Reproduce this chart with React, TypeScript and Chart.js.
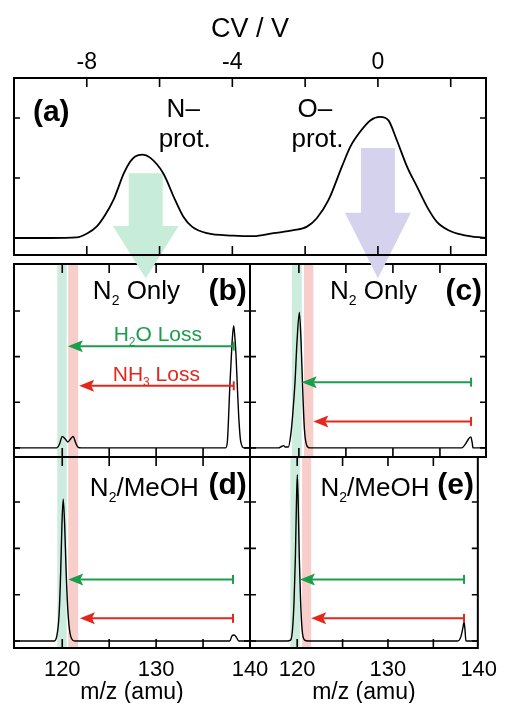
import React, { useEffect, useRef } from 'react';
import { Chart, registerables } from 'chart.js';

Chart.register(...registerables);

const W = 508;
const H = 703;
const FONT = '"Liberation Sans", Arial, Helvetica, sans-serif';

// ---------- (a) CV scan ----------
const cvValues = [-10, -9, -8.28, -7.98, -7.73, -7.5, -7.27, -6.98, -6.81, -6.67, -6.47, -6.26, -5.9, -5.57, -5.35, -5.11, -4.7, -3.97, -3.42, -2.87, -2.32, -1.95, -1.68, -1.36, -0.99, -0.76, -0.49, -0.21, 0.06, 0.29, 0.52, 0.8, 1.07, 1.35, 1.62, 1.94, 2.35, 2.97];
const cvIntensity = [0, 0, 0.01, 0.08, 0.19, 0.38, 0.63, 1.08, 1.27, 1.36, 1.39, 1.34, 1.08, 0.63, 0.36, 0.19, 0.08, 0.04, 0.03, 0.08, 0.13, 0.19, 0.33, 0.63, 1.19, 1.52, 1.77, 1.96, 2.02, 1.96, 1.63, 1.19, 0.86, 0.52, 0.27, 0.13, 0.05, 0];
const cvTicks = [-8, -6, -4, -2, 0, 2];
const cvLabeled = [-8, -4, 0];
const cvYTicks = [0, 1, 2];

// ---------- mass spectra ----------
const mzTicks = [120, 125, 130, 135, 140];
const mzLabeled = [120, 130, 140];
const msYTicks = [0, 1, 2, 3];

const mzB = [114.86, 119.4, 119.7, 120.0, 120.3, 120.6, 120.9, 121.15, 121.45, 121.7, 122.0, 137.4, 137.59, 137.7, 137.84, 138.02, 138.12, 138.26, 138.38, 138.51, 138.66, 138.83, 139.01, 139.4, 140];
const intB = [0, 0, 0.08, 0.25, 0.2, 0.13, 0.2, 0.25, 0.1, 0.01, 0, 0, 0.14, 0.58, 1.3, 2.03, 2.4, 2.68, 2.45, 2.03, 1.3, 0.58, 0.14, 0, 0];

const mzC = [114.8, 117.8, 118.15, 118.35, 118.55, 118.88, 119.13, 119.34, 119.59, 119.8, 120.05, 120.23, 120.4, 120.58, 120.83, 121.18, 137.32, 137.67, 138.03, 138.28, 138.42, 138.52, 139.9];
const intC = [0, 0, 0.03, 0.05, 0.02, 0.02, 0.28, 0.72, 1.45, 2.33, 2.97, 2.33, 1.31, 0.43, 0.06, 0, 0, 0.07, 0.19, 0.24, 0.13, 0, 0];

const mzD = [114.86, 119.12, 119.4, 119.65, 119.83, 119.97, 120.1, 120.25, 120.42, 120.64, 120.92, 121.34, 137.84, 138.08, 138.3, 138.55, 138.8, 140];
const intD = [0, 0, 0.09, 0.53, 1.46, 2.54, 3.06, 2.54, 1.46, 0.53, 0.09, 0, 0, 0.11, 0.13, 0.08, 0, 0];

const mzE = [114.8, 118.88, 119.27, 119.48, 119.66, 119.8, 119.91, 120.01, 120.12, 120.23, 120.37, 120.54, 120.83, 121.18, 137.67, 138.03, 138.28, 138.38, 138.49, 138.59, 139.9];
const intE = [0, 0, 0.02, 0.24, 0.89, 1.82, 2.9, 3.59, 2.9, 1.82, 0.89, 0.24, 0.02, 0, 0, 0.09, 0.31, 0.42, 0.23, 0, 0];

// highlighted m/z bands [green (H2O loss), red (NH3 loss)]
const bandsLeft = [[119.47, 120.47], [120.64, 121.7]];
const bandsRight = [[119.25, 120.3], [120.54, 121.54]];

// loss arrows: [y, start m/z, tip m/z]  (first green, second red)
const arrowsB = [[2.23, 138.27, 120.6], [1.36, 138.27, 121.8]];
const arrowsC = [[1.44, 138.31, 120.3], [0.58, 138.31, 121.54]];
const arrowsD = [[1.33, 138.19, 120.64], [0.49, 138.19, 121.88]];
const arrowsE = [[1.33, 138.38, 120.3], [0.49, 138.38, 121.54]];

// big CV arrows: [CV centre, shaft top, head start, tip]
const cvArrows = [[-6.38, 1.08, 0.2, -0.67], [0, 1.5, 0.42, -0.67]];

const GREEN = '#1a9e4c';
const RED = '#e3271d';
const BAND_COLORS = ['rgb(204,237,221)', 'rgb(248,206,203)'];
const BIG_ARROW_COLORS = ['rgb(200,236,218)', 'rgb(212,210,236)'];

type Part = [string, boolean];
type Txt = { parts: Part[]; x: number; y: number; align: 'left' | 'center' | 'right'; size: number; color: string; bold?: boolean };

function drawRich(ctx: CanvasRenderingContext2D, t: Txt, px: number, py: number) {
  const subSize = Math.round(t.size * 0.55);
  const main = `${t.bold ? 'bold ' : ''}${t.size}px ${FONT}`;
  const sub = `${t.bold ? 'bold ' : ''}${subSize}px ${FONT}`;
  let total = 0;
  for (const [s, isSub] of t.parts) {
    ctx.font = isSub ? sub : main;
    total += ctx.measureText(s).width;
  }
  let x = t.align === 'left' ? px : t.align === 'center' ? px - total / 2 : px - total;
  ctx.fillStyle = t.color;
  ctx.textBaseline = 'alphabetic';
  ctx.textAlign = 'left';
  for (const [s, isSub] of t.parts) {
    ctx.font = isSub ? sub : main;
    ctx.fillText(s, x, isSub ? py + t.size * 0.24 : py);
    x += ctx.measureText(s).width;
  }
}

type Decor = {
  xTicks: number[];
  yTicks: number[];
  bands?: number[][];
  lossArrows?: number[][];
  bigArrows?: number[][];
  texts: Txt[];
};

function makeDecor(d: Decor) {
  return {
    id: 'decor',
    beforeDatasetsDraw(chart: any) {
      const { ctx, chartArea: a, scales } = chart;
      const x = scales.x;
      const y = scales.y;
      ctx.save();
      (d.bands || []).forEach((b, i) => {
        const x1 = x.getPixelForValue(b[0]);
        const x2 = x.getPixelForValue(b[1]);
        ctx.fillStyle = BAND_COLORS[i];
        ctx.fillRect(x1, a.top, x2 - x1, a.bottom - a.top);
      });
      (d.bigArrows || []).forEach((b, i) => {
        const cx = x.getPixelForValue(b[0]);
        const top = y.getPixelForValue(b[1]);
        const hs = y.getPixelForValue(b[2]);
        const tip = y.getPixelForValue(b[3]);
        const sh = 17;
        const hh = 33;
        ctx.fillStyle = BIG_ARROW_COLORS[i];
        ctx.beginPath();
        ctx.moveTo(cx - sh, top);
        ctx.lineTo(cx + sh, top);
        ctx.lineTo(cx + sh, hs);
        ctx.lineTo(cx + hh, hs);
        ctx.lineTo(cx, tip);
        ctx.lineTo(cx - hh, hs);
        ctx.lineTo(cx - sh, hs);
        ctx.closePath();
        ctx.fill();
      });
      ctx.restore();
    },
    afterDatasetsDraw(chart: any) {
      const { ctx, chartArea: a, scales } = chart;
      const x = scales.x;
      const y = scales.y;
      ctx.save();
      // loss arrows
      (d.lossArrows || []).forEach((r, i) => {
        const col = i === 0 ? GREEN : RED;
        const py = y.getPixelForValue(r[0]);
        const x0 = x.getPixelForValue(r[1]);
        const xt = x.getPixelForValue(r[2]);
        ctx.strokeStyle = col;
        ctx.fillStyle = col;
        ctx.lineWidth = 2;
        ctx.beginPath();
        ctx.moveTo(x0, py);
        ctx.lineTo(xt + 12, py);
        ctx.stroke();
        ctx.beginPath();
        ctx.moveTo(x0, py - 4.5);
        ctx.lineTo(x0, py + 4.5);
        ctx.stroke();
        ctx.beginPath();
        ctx.moveTo(xt, py);
        ctx.lineTo(xt + 15, py - 6);
        ctx.lineTo(xt + 12, py);
        ctx.lineTo(xt + 15, py + 6);
        ctx.closePath();
        ctx.fill();
      });
      // frame
      ctx.strokeStyle = '#000';
      ctx.lineWidth = 2;
      ctx.strokeRect(a.left, a.top, a.right - a.left, a.bottom - a.top);
      ctx.lineWidth = 1.6;
      ctx.beginPath();
      d.xTicks.forEach((v) => {
        const px = x.getPixelForValue(v);
        if (px <= a.left + 1 || px >= a.right - 1) return;
        ctx.moveTo(px, a.top);
        ctx.lineTo(px, a.top + 9);
        ctx.moveTo(px, a.bottom);
        ctx.lineTo(px, a.bottom - 9);
      });
      d.yTicks.forEach((v) => {
        const py = y.getPixelForValue(v);
        if (py <= a.top + 1 || py >= a.bottom - 1) return;
        ctx.moveTo(a.left, py);
        ctx.lineTo(a.left + 6, py);
        ctx.moveTo(a.right, py);
        ctx.lineTo(a.right - 6, py);
      });
      ctx.stroke();
      // texts
      d.texts.forEach((t) => drawRich(ctx, t, x.getPixelForValue(t.x), y.getPixelForValue(t.y)));
      ctx.restore();
    },
  };
}

function pts(xs: number[], ys: number[]) {
  return xs.map((v, i) => ({ x: v, y: ys[i] }));
}

function lineDataset(xs: number[], ys: number[], width: number) {
  return {
    data: pts(xs, ys),
    borderColor: '#000',
    borderWidth: width,
    pointRadius: 0,
    fill: false,
    cubicInterpolationMode: 'monotone' as const,
  };
}

function makeCV(canvas: HTMLCanvasElement) {
  const texts: Txt[] = [
    { parts: [['(a)', false]], x: -9.48, y: 1.95, align: 'left', size: 30, color: '#000', bold: true },
    { parts: [['N–', false]], x: -5.35, y: 2.02, align: 'center', size: 26, color: '#000' },
    { parts: [['prot.', false]], x: -5.31, y: 1.52, align: 'center', size: 26, color: '#000' },
    { parts: [['O–', false]], x: -1.73, y: 2.02, align: 'center', size: 26, color: '#000' },
    { parts: [['prot.', false]], x: -1.66, y: 1.52, align: 'center', size: 26, color: '#000' },
  ];
  return new Chart(canvas, {
    type: 'line',
    data: { datasets: [lineDataset(cvValues, cvIntensity, 1.8)] },
    options: {
      responsive: false,
      animation: false,
      events: [],
      layout: { padding: { left: 14, right: 22, top: 0, bottom: H - 255 } },
      plugins: { legend: { display: false }, tooltip: { enabled: false } },
      scales: {
        x: {
          type: 'linear',
          position: 'top',
          min: -10,
          max: 2.97,
          grid: { display: false, drawTicks: false },
          border: { display: false },
          afterBuildTicks: (s: any) => {
            s.ticks = cvTicks.map((v) => ({ value: v }));
          },
          afterFit: (s: any) => {
            s.height = 78;
          },
          ticks: {
            autoSkip: false,
            maxRotation: 0,
            padding: 4,
            color: '#000',
            font: { family: FONT, size: 23, lineHeight: 1 },
            callback: (v: any) => (cvLabeled.includes(Number(v)) ? String(v) : ''),
          },
          title: {
            display: true,
            text: 'CV / V',
            color: '#000',
            font: { family: FONT, size: 27, lineHeight: 1 },
            padding: { top: 16.5, bottom: 0 },
          },
        },
        y: { type: 'linear', display: false, min: -0.283, max: 2.667 },
      },
    },
    plugins: [makeDecor({ xTicks: cvTicks, yTicks: cvYTicks, bigArrows: cvArrows, texts })],
  } as any);
}

type SpecOpts = {
  mz: number[];
  inten: number[];
  col: 'L' | 'R';
  row: 'T' | 'B';
  bands: number[][];
  arrows: number[][];
  texts: Txt[];
};

function makeSpec(canvas: HTMLCanvasElement, o: SpecOpts) {
  const left = o.col === 'L' ? 14 : 250;
  const right = o.col === 'L' ? W - 250 : W - 486;
  const top = o.row === 'T' ? 264 : 457;
  const bottom = o.row === 'T' ? H - 457 : 0;
  const xMin = o.col === 'L' ? 114.86 : 114.8;
  const xMax = o.col === 'L' ? 140 : 139.9;
  const yMin = o.row === 'T' ? -0.2 : -0.15;
  const yMax = o.row === 'T' ? 4.03 : 3.97;
  const xAxis: any =
    o.row === 'T'
      ? { type: 'linear', display: false, min: xMin, max: xMax }
      : {
          type: 'linear',
          position: 'bottom',
          min: xMin,
          max: xMax,
          grid: { display: false, drawTicks: false },
          border: { display: false },
          afterBuildTicks: (s: any) => {
            s.ticks = mzTicks.map((v) => ({ value: v }));
          },
          afterFit: (s: any) => {
            s.height = 55;
          },
          ticks: {
            autoSkip: false,
            maxRotation: 0,
            padding: 11,
            color: '#000',
            font: { family: FONT, size: 22, lineHeight: 1 },
            callback: (v: any) => (mzLabeled.includes(Number(v)) ? String(v) : ''),
          },
          title: {
            display: true,
            text: 'm/z (amu)',
            color: '#000',
            font: { family: FONT, size: 23, lineHeight: 0.9 },
            padding: 0,
          },
        };
  return new Chart(canvas, {
    type: 'line',
    data: { datasets: [lineDataset(o.mz, o.inten, 1.4)] },
    options: {
      responsive: false,
      animation: false,
      events: [],
      layout: { padding: { left, right, top, bottom } },
      plugins: { legend: { display: false }, tooltip: { enabled: false } },
      scales: {
        x: xAxis,
        y: { type: 'linear', display: false, min: yMin, max: yMax },
      },
    },
    plugins: [makeDecor({ xTicks: mzTicks, yTicks: msYTicks, bands: o.bands, lossArrows: o.arrows, texts: o.texts })],
  } as any);
}

const BLACK = '#000';

const specs: SpecOpts[] = [
  {
    mz: mzB, inten: intB, col: 'L', row: 'T', bands: bandsLeft, arrows: arrowsB,
    texts: [
      { parts: [['N', false], ['2', true], [' Only', false]], x: 123.26, y: 3.26, align: 'left', size: 26, color: BLACK },
      { parts: [['(b)', false]], x: 139.65, y: 3.24, align: 'right', size: 30, color: BLACK, bold: true },
      { parts: [['H', false], ['2', true], ['O Loss', false]], x: 130.18, y: 2.34, align: 'center', size: 21, color: GREEN },
      { parts: [['NH', false], ['3', true], [' Loss', false]], x: 130.02, y: 1.47, align: 'center', size: 21, color: RED },
    ],
  },
  {
    mz: mzC, inten: intC, col: 'R', row: 'T', bands: bandsRight, arrows: arrowsC,
    texts: [
      { parts: [['N', false], ['2', true], [' Only', false]], x: 123.31, y: 3.26, align: 'left', size: 26, color: BLACK },
      { parts: [['(c)', false]], x: 139.48, y: 3.24, align: 'right', size: 30, color: BLACK, bold: true },
    ],
  },
  {
    mz: mzD, inten: intD, col: 'L', row: 'B', bands: bandsLeft, arrows: arrowsD,
    texts: [
      { parts: [['N', false], ['2', true], ['/MeOH', false]], x: 122.94, y: 3.13, align: 'left', size: 26, color: BLACK },
      { parts: [['(d)', false]], x: 139.65, y: 3.17, align: 'right', size: 30, color: BLACK, bold: true },
    ],
  },
  {
    mz: mzE, inten: intE, col: 'R', row: 'B', bands: bandsRight, arrows: arrowsE,
    texts: [
      { parts: [['N', false], ['2', true], ['/MeOH', false]], x: 122.57, y: 3.13, align: 'left', size: 26, color: BLACK },
      { parts: [['(e)', false]], x: 139.48, y: 3.17, align: 'right', size: 30, color: BLACK, bold: true },
    ],
  },
];

function ChartCanvas({ make }: { make: (c: HTMLCanvasElement) => Chart }) {
  const ref = useRef<HTMLCanvasElement>(null);
  useEffect(() => {
    const ch = make(ref.current as HTMLCanvasElement);
    return () => ch.destroy();
  }, []);
  return (
    <canvas
      ref={ref}
      width={W}
      height={H}
      style={{ position: 'absolute', left: 0, top: 0, width: W, height: H }}
    />
  );
}

export default function App() {
  return (
    <div style={{ position: 'absolute', left: 0, top: 0, width: W, height: H, background: '#fff', overflow: 'hidden' }}>
      {specs.map((s, i) => (
        <ChartCanvas key={i} make={(c) => makeSpec(c, s)} />
      ))}
      <ChartCanvas make={makeCV} />
    </div>
  );
}
